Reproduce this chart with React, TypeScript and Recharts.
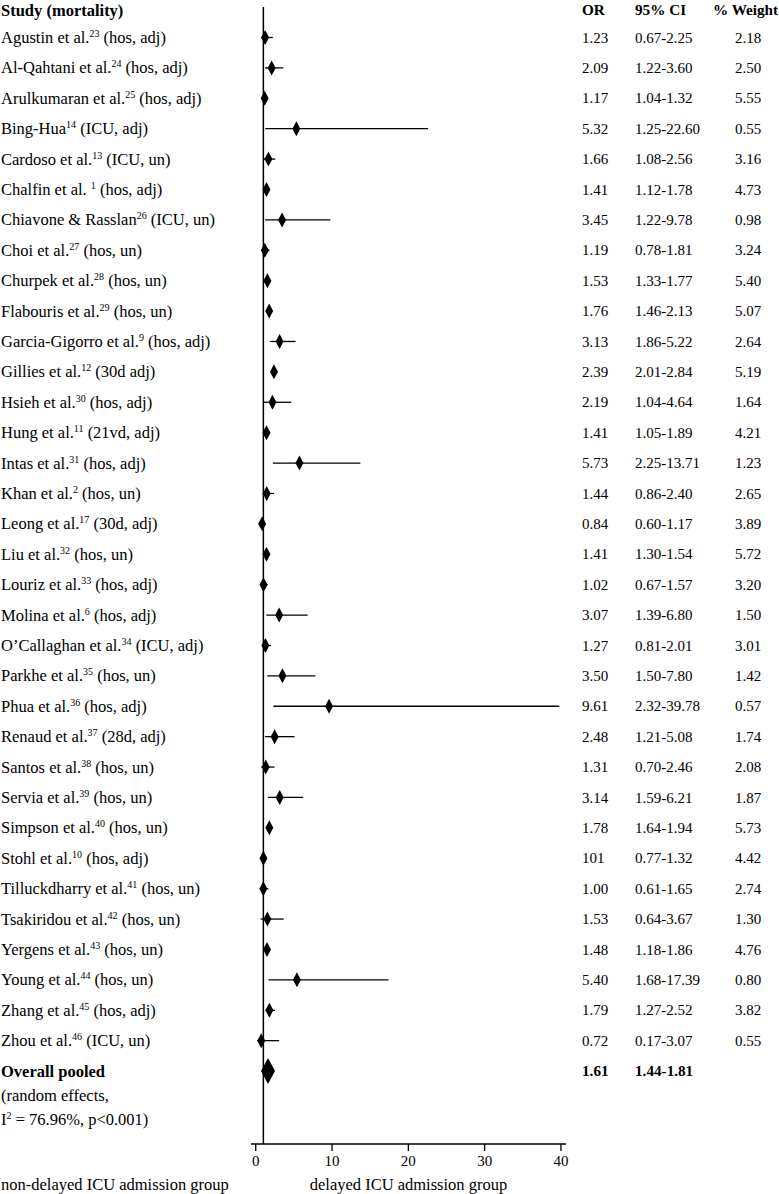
import React from 'react';
import { ScatterChart, Scatter, XAxis, YAxis, ErrorBar, ReferenceLine } from 'recharts';

const studyNames = [
  'Agustin et al.', 'Al-Qahtani et al.', 'Arulkumaran et al.', 'Bing-Hua', 'Cardoso et al.',
  'Chalfin et al. ', 'Chiavone & Rasslan', 'Choi et al.', 'Churpek et al.', 'Flabouris et al.',
  'Garcia-Gigorro et al.', 'Gillies et al.', 'Hsieh et al.', 'Hung et al.', 'Intas et al.',
  'Khan et al.', 'Leong et al.', 'Liu et al.', 'Louriz et al.', 'Molina et al.',
  'O\u2019Callaghan et al.', 'Parkhe et al.', 'Phua et al.', 'Renaud et al.', 'Santos et al.',
  'Servia et al.', 'Simpson et al.', 'Stohl et al.', 'Tilluckdharry et al.', 'Tsakiridou et al.',
  'Yergens et al.', 'Young et al.', 'Zhang et al.', 'Zhou et al.',
];
const studyRefs = [
  '23', '24', '25', '14', '13', '1', '26', '27', '28', '29', '9', '12', '30', '11', '31', '2', '17',
  '32', '33', '6', '34', '35', '36', '37', '38', '39', '40', '10', '41', '42', '43', '44', '45', '46',
];
const studyNotes = [
  '(hos, adj)', '(hos, adj)', '(hos, adj)', '(ICU, adj)', '(ICU, un)', '(hos, adj)', '(ICU, un)',
  '(hos, un)', '(hos, un)', '(hos, un)', '(hos, adj)', '(30d adj)', '(hos, adj)', '(21vd, adj)',
  '(hos, adj)', '(hos, un)', '(30d, adj)', '(hos, un)', '(hos, adj)', '(hos, adj)', '(ICU, adj)',
  '(hos, un)', '(hos, adj)', '(28d, adj)', '(hos, un)', '(hos, un)', '(hos, un)', '(hos, adj)',
  '(hos, un)', '(hos, un)', '(hos, un)', '(hos, un)', '(hos, adj)', '(ICU, un)',
];
const orValues = [
  1.23, 2.09, 1.17, 5.32, 1.66, 1.41, 3.45, 1.19, 1.53, 1.76, 3.13, 2.39, 2.19, 1.41, 5.73, 1.44, 0.84,
  1.41, 1.02, 3.07, 1.27, 3.5, 9.61, 2.48, 1.31, 3.14, 1.78, 1.01, 1.0, 1.53, 1.48, 5.4, 1.79, 0.72,
];
const orLabels = [
  '1.23', '2.09', '1.17', '5.32', '1.66', '1.41', '3.45', '1.19', '1.53', '1.76', '3.13', '2.39', '2.19',
  '1.41', '5.73', '1.44', '0.84', '1.41', '1.02', '3.07', '1.27', '3.50', '9.61', '2.48', '1.31', '3.14',
  '1.78', '101', '1.00', '1.53', '1.48', '5.40', '1.79', '0.72',
];
const ciLow = [
  0.67, 1.22, 1.04, 1.25, 1.08, 1.12, 1.22, 0.78, 1.33, 1.46, 1.86, 2.01, 1.04, 1.05, 2.25, 0.86, 0.6,
  1.3, 0.67, 1.39, 0.81, 1.5, 2.32, 1.21, 0.7, 1.59, 1.64, 0.77, 0.61, 0.64, 1.18, 1.68, 1.27, 0.17,
];
const ciHigh = [
  2.25, 3.6, 1.32, 22.6, 2.56, 1.78, 9.78, 1.81, 1.77, 2.13, 5.22, 2.84, 4.64, 1.89, 13.71, 2.4, 1.17,
  1.54, 1.57, 6.8, 2.01, 7.8, 39.78, 5.08, 2.46, 6.21, 1.94, 1.32, 1.65, 3.67, 1.86, 17.39, 2.52, 3.07,
];
const weights = [
  2.18, 2.5, 5.55, 0.55, 3.16, 4.73, 0.98, 3.24, 5.4, 5.07, 2.64, 5.19, 1.64, 4.21, 1.23, 2.65, 3.89,
  5.72, 3.2, 1.5, 3.01, 1.42, 0.57, 1.74, 2.08, 1.87, 5.73, 4.42, 2.74, 1.3, 4.76, 0.8, 3.82, 0.55,
];
const pooledOR = 1.61;
const pooledLow = 1.44;
const pooledHigh = 1.81;
const pooledLabel = 'Overall pooled';
const pooledNote1 = '(random effects,';
const pooledNote2 = ' = 76.96%, p<0.001)';
const xTicks = [0, 10, 20, 30, 40];
const headerLabels = ['Study (mortality)', 'OR', '95% CI', '% Weight'];
const xAxisTitle = 'delayed ICU admission group';
const leftTitle = 'non-delayed ICU admission group';

// layout rows
const HEADER_ROW = -0.905;
const POOLED_ROW = 34;
const RANDOM_ROW = 34.79;
const I2_ROW = 35.58;

const studyData = orValues.map((v, i) => ({
  row: i,
  or: v,
  err: [v - ciLow[i], ciHigh[i] - v],
}));
const pooledData = [{ row: POOLED_ROW, or: pooledOR, err: [pooledOR - pooledLow, pooledHigh - pooledOR] }];

const yTicks = [HEADER_ROW, ...studyData.map((d) => d.row), POOLED_ROW, RANDOM_ROW, I2_ROW];

const FONT = '"Liberation Serif", "Times New Roman", serif';
const TXT = 16.5;
const NUM = 15;
const HEAD_NUM = 15.2;
const COL_OR = 582;
const COL_CI = 635;
const COL_W = 735;
const COL_WH = 713;

const txt = (x: number, y: number, content: any, size: number, bold = false, anchor = 'start') => (
  <text
    x={x}
    y={y}
    dy={size * 0.34}
    fontFamily={FONT}
    fontSize={size}
    fontWeight={bold ? 'bold' : 'normal'}
    fill="#000"
    textAnchor={anchor}
    style={{ whiteSpace: 'pre' }}
  >
    {content}
  </text>
);

function RowTick(props: any) {
  const { y, payload } = props;
  const v = payload.value;
  if (v === HEADER_ROW) {
    return (
      <g>
        {txt(1, y, headerLabels[0], TXT, true)}
        {txt(COL_OR, y, headerLabels[1], HEAD_NUM, true)}
        {txt(COL_CI, y, headerLabels[2], HEAD_NUM, true)}
        {txt(COL_WH, y, headerLabels[3], HEAD_NUM, true)}
      </g>
    );
  }
  if (v === POOLED_ROW) {
    return (
      <g>
        {txt(1, y, pooledLabel, TXT, true)}
        {txt(COL_OR, y, pooledOR.toFixed(2), HEAD_NUM, true)}
        {txt(COL_CI, y, `${pooledLow.toFixed(2)}-${pooledHigh.toFixed(2)}`, HEAD_NUM, true)}
      </g>
    );
  }
  if (v === RANDOM_ROW) {
    return <g>{txt(1, y, pooledNote1, TXT)}</g>;
  }
  if (v === I2_ROW) {
    return (
      <g>
        {txt(
          1,
          y,
          <>
            <tspan>I</tspan>
            <tspan fontSize={10} dy={-6}>2</tspan>
            <tspan dy={6}>{pooledNote2}</tspan>
          </>,
          TXT,
        )}
      </g>
    );
  }
  const i = v as number;
  return (
    <g>
      {txt(
        1,
        y,
        <>
          <tspan>{studyNames[i]}</tspan>
          <tspan fontSize={10} dy={-6}>{studyRefs[i]}</tspan>
          <tspan dy={6}>{' ' + studyNotes[i]}</tspan>
        </>,
        TXT,
      )}
      {txt(COL_OR, y, orLabels[i], NUM)}
      {txt(COL_CI, y, `${ciLow[i].toFixed(2)}-${ciHigh[i].toFixed(2)}`, NUM)}
      {txt(COL_W, y, weights[i].toFixed(2), NUM)}
    </g>
  );
}

function BottomLabels(props: any) {
  const vb = props.viewBox || { x: 251, y: 1144, width: 315, height: 30 };
  const cx = vb.x + vb.width / 2;
  const ty = 1184;
  return (
    <g>
      {txt(cx, ty, xAxisTitle, TXT, false, 'middle')}
      {txt(1, ty, leftTitle, TXT)}
    </g>
  );
}

const diamond = (w: number, h: number) => (props: any) => {
  const { cx, cy } = props;
  return (
    <polygon
      points={`${cx},${cy - h / 2} ${cx + w / 2},${cy} ${cx},${cy + h / 2} ${cx - w / 2},${cy}`}
      fill="#000"
      stroke="none"
    />
  );
};

export default function App() {
  return (
    <div style={{ position: 'absolute', left: 0, top: 0, width: 779, height: 1194, background: '#fff' }}>
      <ScatterChart width={779} height={1194} margin={{ top: 7, right: 213, bottom: 20, left: 0 }}>
        <XAxis
          type="number"
          dataKey="or"
          domain={[-0.62, 40.66]}
          ticks={xTicks}
          interval={0}
          allowDataOverflow
          height={30}
          tickSize={7}
          tickMargin={4}
          axisLine={{ stroke: '#000', strokeWidth: 1.3 }}
          tickLine={{ stroke: '#000', strokeWidth: 1.3 }}
          tick={{ fill: '#000', fontSize: NUM, fontFamily: FONT }}
          label={<BottomLabels />}
        />
        <YAxis
          type="number"
          dataKey="row"
          domain={[-1.003, 36.4]}
          reversed
          allowDataOverflow
          ticks={yTicks}
          interval={0}
          width={251}
          axisLine={false}
          tickLine={false}
          tick={<RowTick />}
        />
        <ReferenceLine x={1} stroke="#000" strokeWidth={1.5} />
        <Scatter data={studyData} shape={diamond(8, 15)} isAnimationActive={false}>
          <ErrorBar dataKey="err" direction="x" width={0} stroke="#000" strokeWidth={1.3} />
        </Scatter>
        <Scatter data={pooledData} shape={diamond(14, 26)} isAnimationActive={false} />
      </ScatterChart>
    </div>
  );
}
